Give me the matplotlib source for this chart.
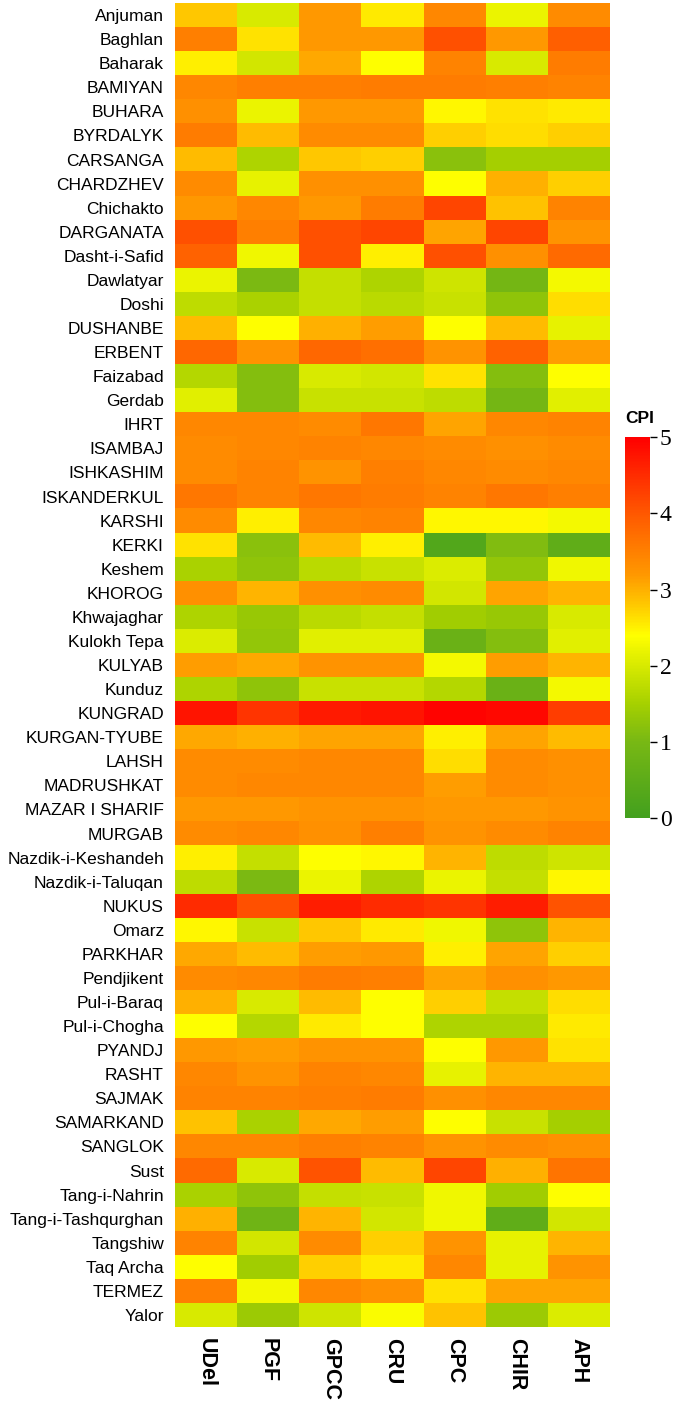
import numpy as np
import matplotlib
matplotlib.use("Agg")
import matplotlib.pyplot as plt
from matplotlib.colors import LinearSegmentedColormap

stations = ["Anjuman", "Baghlan", "Baharak", "BAMIYAN", "BUHARA", "BYRDALYK",
            "CARSANGA", "CHARDZHEV", "Chichakto", "DARGANATA", "Dasht-i-Safid",
            "Dawlatyar", "Doshi", "DUSHANBE", "ERBENT", "Faizabad", "Gerdab",
            "IHRT", "ISAMBAJ", "ISHKASHIM", "ISKANDERKUL", "KARSHI", "KERKI",
            "Keshem", "KHOROG", "Khwajaghar", "Kulokh Tepa", "KULYAB", "Kunduz",
            "KUNGRAD", "KURGAN-TYUBE", "LAHSH", "MADRUSHKAT", "MAZAR I SHARIF",
            "MURGAB", "Nazdik-i-Keshandeh", "Nazdik-i-Taluqan", "NUKUS", "Omarz",
            "PARKHAR", "Pendjikent", "Pul-i-Baraq", "Pul-i-Chogha", "PYANDJ",
            "RASHT", "SAJMAK", "SAMARKAND", "SANGLOK", "Sust", "Tang-i-Nahrin",
            "Tang-i-Tashqurghan", "Tangshiw", "Taq Archa", "TERMEZ", "Yalor"]

products = ["UDel", "PGF", "GPCC", "CRU", "CPC", "CHIR", "APH"]

# CPI per station, columns in the order of products
cpi = [
    [2.80, 2.00, 3.20, 2.55, 3.40, 2.20, 3.35],
    [3.50, 2.60, 3.20, 3.20, 4.10, 3.20, 3.90],
    [2.50, 1.95, 3.05, 2.40, 3.45, 2.00, 3.55],
    [3.40, 3.50, 3.50, 3.55, 3.55, 3.50, 3.45],
    [3.30, 2.20, 3.20, 3.20, 2.45, 2.60, 2.55],
    [3.55, 2.90, 3.35, 3.35, 2.75, 2.65, 2.75],
    [2.90, 1.60, 2.80, 2.75, 1.20, 1.50, 1.50],
    [3.35, 2.15, 3.30, 3.30, 2.40, 3.00, 2.75],
    [3.20, 3.40, 3.20, 3.55, 4.20, 2.85, 3.45],
    [4.10, 3.50, 4.10, 4.20, 3.10, 4.20, 3.25],
    [3.85, 2.25, 4.10, 2.50, 4.10, 3.30, 3.75],
    [2.20, 1.05, 1.80, 1.60, 1.90, 0.95, 2.30],
    [1.75, 1.55, 1.80, 1.70, 1.85, 1.25, 2.65],
    [2.90, 2.40, 3.00, 3.15, 2.40, 2.90, 2.15],
    [3.80, 3.25, 3.80, 3.70, 3.25, 3.85, 3.15],
    [1.65, 1.15, 2.00, 1.95, 2.60, 1.15, 2.40],
    [2.10, 1.15, 1.85, 1.85, 1.75, 0.95, 2.10],
    [3.40, 3.40, 3.35, 3.60, 3.10, 3.40, 3.45],
    [3.35, 3.40, 3.45, 3.40, 3.35, 3.30, 3.35],
    [3.35, 3.45, 3.25, 3.50, 3.40, 3.35, 3.40],
    [3.60, 3.45, 3.60, 3.55, 3.45, 3.60, 3.50],
    [3.35, 2.50, 3.40, 3.45, 2.45, 2.45, 2.30],
    [2.60, 1.20, 2.90, 2.50, 0.30, 1.10, 0.55],
    [1.55, 1.25, 1.70, 1.85, 2.05, 1.30, 2.25],
    [3.30, 2.95, 3.30, 3.35, 1.95, 3.10, 2.95],
    [1.60, 1.35, 1.70, 1.80, 1.45, 1.35, 2.00],
    [2.05, 1.30, 2.10, 2.10, 0.75, 1.15, 2.10],
    [3.15, 3.05, 3.25, 3.25, 2.30, 3.15, 2.95],
    [1.60, 1.25, 1.85, 1.85, 1.65, 0.75, 2.30],
    [4.75, 4.40, 4.70, 4.75, 4.95, 4.90, 4.30],
    [3.05, 3.00, 3.10, 3.10, 2.50, 3.10, 2.90],
    [3.35, 3.35, 3.40, 3.40, 2.65, 3.35, 3.30],
    [3.35, 3.40, 3.40, 3.40, 3.15, 3.35, 3.30],
    [3.20, 3.20, 3.25, 3.25, 3.20, 3.20, 3.25],
    [3.35, 3.40, 3.30, 3.50, 3.25, 3.35, 3.45],
    [2.50, 1.80, 2.40, 2.45, 2.95, 1.75, 1.90],
    [1.75, 1.05, 2.20, 1.60, 2.20, 1.80, 2.45],
    [4.50, 4.10, 4.65, 4.50, 4.40, 4.65, 4.05],
    [2.45, 1.85, 2.80, 2.55, 2.25, 1.25, 2.95],
    [3.05, 2.90, 3.15, 3.20, 2.50, 3.10, 2.75],
    [3.35, 3.40, 3.55, 3.50, 3.10, 3.30, 3.20],
    [3.00, 2.00, 2.90, 2.40, 2.75, 1.80, 2.65],
    [2.40, 1.65, 2.55, 2.40, 1.60, 1.60, 2.55],
    [3.20, 3.15, 3.25, 3.25, 2.40, 3.20, 2.60],
    [3.40, 3.25, 3.45, 3.40, 2.15, 2.95, 2.95],
    [3.45, 3.45, 3.50, 3.55, 3.30, 3.40, 3.40],
    [2.85, 1.55, 3.05, 3.15, 2.40, 1.85, 1.50],
    [3.40, 3.40, 3.50, 3.45, 3.25, 3.35, 3.30],
    [3.75, 2.00, 4.05, 2.90, 4.20, 3.00, 3.65],
    [1.55, 1.25, 1.80, 1.85, 2.25, 1.45, 2.40],
    [3.00, 0.85, 2.95, 1.95, 2.25, 0.55, 1.95],
    [3.45, 1.95, 3.35, 2.75, 3.25, 2.15, 2.95],
    [2.40, 1.45, 2.75, 2.55, 3.40, 2.15, 3.25],
    [3.50, 2.30, 3.40, 3.30, 2.60, 3.10, 3.10],
    [2.00, 1.40, 1.90, 2.35, 2.85, 1.40, 2.05],
]

# green -> yellow -> orange -> red
stops = [(0.0, "#43a01e"), (0.2, "#78b814"), (0.3, "#a6d000"), (0.4, "#d8ea00"),
         (0.48, "#ffff00"), (0.56, "#ffc800"), (0.64, "#ff9800"), (0.72, "#ff7800"),
         (0.82, "#ff5000"), (1.0, "#ff0000")]
cmap = LinearSegmentedColormap.from_list("cpi", stops)

plt.rcParams['font.family'] = ['Liberation Sans', 'DejaVu Sans']

fig = plt.figure(figsize=(6.85, 14.01), dpi=100)
ax = fig.add_axes([0.2555, 0.0528, 0.635, 0.945])

data = np.array(cpi)
im = ax.imshow(data, cmap=cmap, vmin=0, vmax=5, aspect='auto', interpolation='nearest')

ax.set_yticks(range(len(stations)))
ax.set_yticklabels(stations, fontsize=12.5)
ax.set_xticks(range(len(products)))
ax.set_xticklabels(products, rotation=270, fontsize=15.5, fontweight='bold', va='top')
ax.tick_params(length=0, pad=8)
for s in ax.spines.values():
    s.set_visible(False)

cax = fig.add_axes([0.913, 0.416, 0.036, 0.272])
cb = fig.colorbar(im, cax=cax, ticks=range(6))
cb.outline.set_visible(False)
cax.tick_params(length=5, width=1, labelsize=17, pad=2)
for t in cax.get_yticklabels():
    t.set_fontfamily('Liberation Serif')
cax.set_title("CPI", fontsize=12.5, fontweight='bold', loc='left', pad=10)

fig.savefig("out.png", dpi=100)
